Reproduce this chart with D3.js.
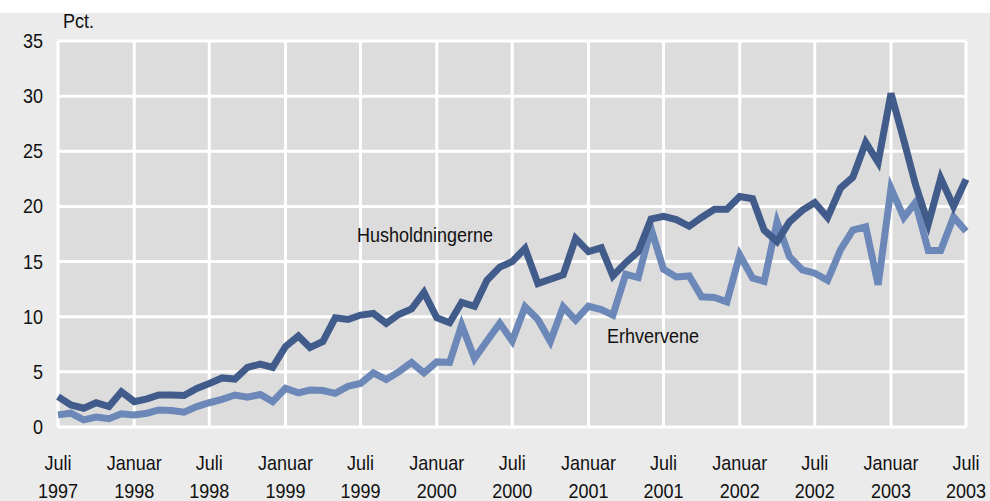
<!DOCTYPE html>
<html>
<head>
<meta charset="utf-8">
<script src="https://cdn.jsdelivr.net/npm/d3@7"></script>
<style>
  body { margin: 0; background: #ebebeb; }
  svg text { font-family: "Liberation Sans", Arial, sans-serif; font-size: 20px; fill: #111; }
</style>
</head>
<body>
<script>
/* data: monthly values, Juli 1997 - Juli 2003 (pct.) */
const husholdningerne = [
  2.75, 2.0, 1.7, 2.2, 1.85, 3.2, 2.3, 2.55, 2.9, 2.9, 2.85, 3.5,
  3.95, 4.45, 4.35, 5.4, 5.7, 5.4, 7.3, 8.25, 7.2, 7.75, 9.9, 9.75,
  10.15, 10.3, 9.4, 10.2, 10.7, 12.2, 9.9, 9.45, 11.3, 10.95, 13.3, 14.5,
  15.0, 16.2, 13.0, 13.4, 13.8, 17.1, 15.9, 16.25, 13.7, 14.9, 15.9, 18.85,
  19.1, 18.8, 18.2, 19.0, 19.75, 19.75, 20.9, 20.7, 17.85, 16.8, 18.6, 19.65,
  20.35, 19.0, 21.65, 22.65, 25.8, 24.0, 30.25, 26.0, 22.0, 18.4, 22.55, 20.0,
  22.45
];
const erhvervene = [
  1.1, 1.25, 0.65, 0.9, 0.75, 1.2, 1.1, 1.25, 1.55, 1.5, 1.35, 1.85,
  2.2, 2.5, 2.9, 2.7, 2.95, 2.3, 3.5, 3.1, 3.35, 3.3, 3.05, 3.7,
  3.95, 4.9, 4.3, 5.0, 5.85, 4.9, 5.9, 5.85, 9.25, 6.2, 7.8, 9.4,
  7.8, 10.9, 9.75, 7.75, 10.9, 9.7, 10.95, 10.65, 10.15, 13.85, 13.55, 18.0,
  14.3, 13.6, 13.7, 11.8, 11.75, 11.35, 15.6, 13.5, 13.2, 18.6, 15.45, 14.25,
  13.95, 13.3, 16.05, 17.85, 18.15, 12.9, 21.65, 19.0, 20.35, 16.0, 16.0, 19.05,
  17.75
];
const tickMonths = ["Juli", "Januar", "Juli", "Januar", "Juli", "Januar", "Juli",
  "Januar", "Juli", "Januar", "Juli", "Januar", "Juli"];
const tickYears = ["1997", "1998", "1998", "1999", "1999", "2000", "2000",
  "2001", "2001", "2002", "2002", "2003", "2003"];
const yTicks = [0, 5, 10, 15, 20, 25, 30, 35];
const startMonth = new Date(1997, 6, 1);

const width = 990, height = 501;
const margin = {top: 41, right: 24, bottom: 74, left: 58};
const squeeze = 0.9; // condensed look of the original font

const months = husholdningerne.map((d, i) => d3.timeMonth.offset(startMonth, i));
const tickDates = tickMonths.map((d, i) => d3.timeMonth.offset(startMonth, i * 6));

const svg = d3.select("body").append("svg")
  .attr("width", width)
  .attr("height", height);

// places a narrowed text at (px, py)
function label(parent, px, py, txt, anchor) {
  return parent.append("text")
    .attr("transform", "translate(" + px + "," + py + ") scale(" + squeeze + ",1)")
    .attr("text-anchor", anchor || "start")
    .text(txt);
}

// top strip (title cut off in the reference)
svg.append("rect")
  .attr("width", width).attr("height", 13)
  .attr("fill", "#fff");

const x = d3.scaleTime()
  .domain([months[0], months[months.length - 1]])
  .range([margin.left, width - margin.right]);
const y = d3.scaleLinear()
  .domain([0, 35])
  .range([height - margin.bottom, margin.top]);

// plot background
svg.append("rect")
  .attr("x", margin.left).attr("y", margin.top)
  .attr("width", width - margin.left - margin.right)
  .attr("height", height - margin.top - margin.bottom)
  .attr("fill", "#dcdcdc");

// grid
svg.append("g")
  .selectAll("line")
  .data(yTicks)
  .join("line")
  .attr("x1", margin.left).attr("x2", width - margin.right)
  .attr("y1", d => y(d)).attr("y2", d => y(d))
  .attr("stroke", "#fff").attr("stroke-width", 3);

svg.append("g")
  .selectAll("line")
  .data(tickDates)
  .join("line")
  .attr("x1", d => x(d)).attr("x2", d => x(d))
  .attr("y1", margin.top).attr("y2", height - margin.bottom)
  .attr("stroke", "#fff").attr("stroke-width", 3);

// y axis labels
const yl = svg.append("g");
yTicks.forEach(d => label(yl, 43, y(d) + 7, d, "end"));

label(svg, 63, 28, "Pct.");

// x axis labels
const xl = svg.append("g");
tickDates.forEach((d, i) => {
  label(xl, x(d), 470, tickMonths[i], "middle");
  label(xl, x(d), 498, tickYears[i], "middle");
});

// lines
const line = d3.line()
  .x((d, i) => x(months[i]))
  .y(d => y(d));

svg.append("path")
  .datum(erhvervene)
  .attr("d", line)
  .attr("fill", "none")
  .attr("stroke", "#6c88b9")
  .attr("stroke-width", 7);

svg.append("path")
  .datum(husholdningerne)
  .attr("d", line)
  .attr("fill", "none")
  .attr("stroke", "#415b8b")
  .attr("stroke-width", 7);

// series labels
label(svg, 357, 242, "Husholdningerne");
label(svg, 607, 343, "Erhvervene");
</script>
</body>
</html>
